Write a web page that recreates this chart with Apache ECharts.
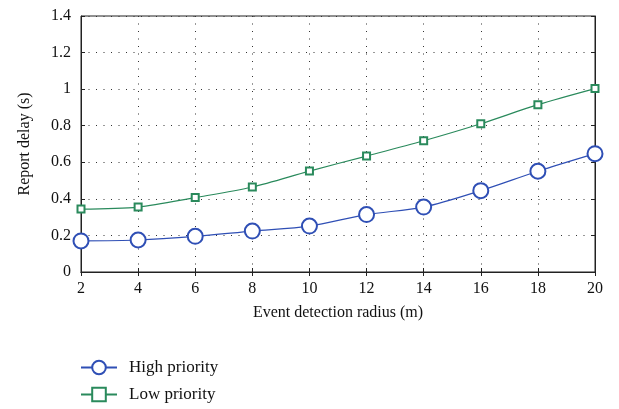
<!DOCTYPE html>
<html>
<head>
  <meta charset="utf-8" />
  <title>Report delay</title>
  <style>
    html, body { margin: 0; padding: 0; background: #fff; }
    #main { width: 619px; height: 409px; }
  </style>
</head>
<body>
  <div id="main"></div>
  <script src="https://cdn.jsdelivr.net/npm/echarts@6/dist/echarts.min.js"></script>
  <script>
    var radius = ['2', '4', '6', '8', '10', '12', '14', '16', '18', '20'];
    var highPriority = [0.170, 0.175, 0.195, 0.224, 0.251, 0.314, 0.355, 0.445, 0.551, 0.647];
    var lowPriority = [0.344, 0.355, 0.407, 0.465, 0.552, 0.634, 0.718, 0.811, 0.915, 1.003];

    var font = 'Liberation Serif';
    var dotted = { color: '#333', width: 1, type: [1, 6.5] };

    var chart = echarts.init(document.getElementById('main'));
    chart.setOption({
      animation: false,
      textStyle: { fontFamily: font },
      grid: { left: 81, right: 24, top: 16, bottom: 137, show: true, borderColor: '#222', borderWidth: 1 },
      legend: {
        orient: 'vertical',
        left: 80,
        top: 359,
        padding: 0,
        itemWidth: 36,
        itemHeight: 17,
        itemGap: 10,
        textStyle: { fontFamily: font, fontSize: 17, color: '#111', padding: [0, 0, 0, 7] },
        data: ['High priority', 'Low priority']
      },
      xAxis: [{
        type: 'category',
        data: radius,
        boundaryGap: false,
        name: 'Event detection radius (m)',
        nameLocation: 'middle',
        nameGap: 33,
        nameTextStyle: { fontSize: 16, color: '#111' },
        axisLine: { lineStyle: { color: '#222' } },
        axisTick: { inside: true, length: 4, lineStyle: { color: '#222' } },
        axisLabel: { fontSize: 16, color: '#111', margin: 9 },
        splitLine: { show: true, lineStyle: dotted }
      }, {
        type: 'category',
        data: radius,
        boundaryGap: false,
        position: 'top',
        axisLine: { lineStyle: { color: '#222' } },
        axisTick: { inside: true, length: 4, lineStyle: { color: '#222' } },
        axisLabel: { show: false }
      }],
      yAxis: [{
        type: 'value',
        min: 0,
        max: 1.4,
        interval: 0.2,
        name: 'Report delay (s)',
        nameLocation: 'middle',
        nameGap: 48,
        nameTextStyle: { fontSize: 16, color: '#111' },
        axisLine: { show: true, lineStyle: { color: '#222' } },
        axisTick: { show: true, inside: true, length: 4, lineStyle: { color: '#222' } },
        axisLabel: { fontSize: 16, color: '#111', margin: 10 },
        splitLine: { show: true, lineStyle: dotted }
      }, {
        type: 'value',
        min: 0,
        max: 1.4,
        interval: 0.2,
        position: 'right',
        axisLine: { show: true, lineStyle: { color: '#222' } },
        axisTick: { show: true, inside: true, length: 4, lineStyle: { color: '#222' } },
        axisLabel: { show: false },
        splitLine: { show: false }
      }],
      series: [{
        name: 'High priority',
        type: 'line',
        data: highPriority,
        smooth: 0.3,
        symbol: 'emptyCircle',
        symbolSize: 15,
        color: '#2f4fb5',
        lineStyle: { width: 1.2 },
        itemStyle: { borderWidth: 1.3 }
      }, {
        name: 'Low priority',
        type: 'line',
        data: lowPriority,
        smooth: 0.3,
        symbol: 'emptyRect',
        symbolSize: 7,
        color: '#2a8a5c',
        lineStyle: { width: 1.2 },
        itemStyle: { borderWidth: 1.2 }
      }]
    });
  </script>
</body>
</html>
